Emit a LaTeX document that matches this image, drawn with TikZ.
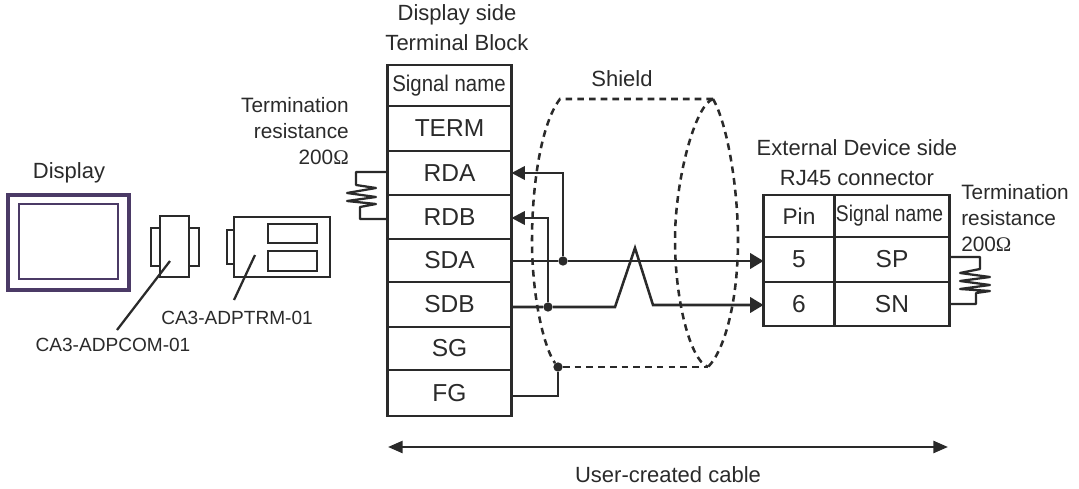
\documentclass[tikz,border=0pt]{standalone}
\usepackage{fontspec}
\setmainfont{Liberation Sans}
\newfontfamily\omfont{Liberation Serif}
\usetikzlibrary{calc,arrows.meta}
\definecolor{ink}{HTML}{2A2A2A}
\definecolor{frame}{HTML}{4B3A66}
\tikzset{
  lab/.style={text=ink,inner sep=0pt,font=\fontsize{16.5pt}{22.5pt}\selectfont},
  small/.style={text=ink,inner sep=0pt,align=left,font=\fontsize{15.6pt}{19.4pt}\selectfont},
  part/.style={text=ink,inner sep=0pt,font=\fontsize{14.3pt}{17pt}\selectfont},
  cell/.style={draw=ink,line width=1.9pt,outer sep=0pt,text=ink,inner sep=0pt,anchor=north west,font=\fontsize{18.4pt}{20pt}\selectfont},
  thin/.style={draw=ink,line width=1.7pt},
  wire/.style={draw=ink,line width=1.9pt,line join=miter},
  tipl/.style={-{Triangle[length=10pt,width=10pt]}},
  tipr/.style={-{Triangle[length=10pt,width=11.5pt]}},
  dot/.style={circle,fill=ink,inner sep=0pt,minimum size=7pt},
  shield/.style={draw=ink,line width=1.9pt,dash pattern=on 5pt off 3.8pt},
  screen/.style={draw=frame,line width=2.2pt},
}
\begin{document}
\begin{tikzpicture}[x=0.75pt,y=-0.75pt]
\useasboundingbox (0,0) rectangle (1079,489);
% display
\draw[screen,line width=3pt] (8,195) rectangle (129,290);
\draw[screen] (19,204) rectangle (118,279);
\node[lab] (display) at (69,173) {Display};
% CA3-ADPCOM-01
\draw[thin] (151,228) rectangle (199,266);
\draw[thin,fill=white] (160,216) rectangle (189,277);
\node[part] (com) at (113,345) {CA3-ADPCOM-01};
\draw[thin] (170,261) -- (117,330);
% CA3-ADPTRM-01
\draw[thin] (227,230) rectangle (234,264);
\draw[thin] (234,217) rectangle (330,277);
\draw[thin] (268,224) rectangle (317,243);
\draw[thin] (268,251) rectangle (317,271);
\node[part] (trm) at (237,318) {CA3-ADPTRM-01};
\draw[thin] (255,255) -- (234,300);
% left table
\node[lab,align=center] (dside) at (457,28) {Display side\\Terminal Block};
\node[cell,minimum width=124*0.75pt,minimum height=41*0.75pt] (sig) at (387.5,65) {};
\node[text=ink,inner sep=0pt,xscale=0.9,font=\fontsize{17pt}{20pt}\selectfont] (sigt) at (449,86) {Signal name};
\node[cell,minimum width=124*0.75pt,minimum height=45*0.75pt] (term) at (387.5,106) {TERM};
\node[cell,minimum width=124*0.75pt,minimum height=44*0.75pt] (rda) at (387.5,151) {RDA};
\node[cell,minimum width=124*0.75pt,minimum height=44*0.75pt] (rdb) at (387.5,195) {RDB};
\node[cell,minimum width=124*0.75pt,minimum height=43*0.75pt] (sda) at (387.5,239) {SDA};
\node[cell,minimum width=124*0.75pt,minimum height=45*0.75pt] (sdb) at (387.5,282) {SDB};
\node[cell,minimum width=124*0.75pt,minimum height=43*0.75pt] (sg) at (387.5,327) {SG};
\node[cell,minimum width=124*0.75pt,minimum height=46*0.75pt] (fg) at (387.5,370) {FG};
% right table
\node[lab,align=center] (eside) at (857,163) {External Device side\\RJ45 connector};
\node[cell,minimum width=71*0.75pt,minimum height=42*0.75pt,font=\fontsize{17pt}{20pt}\selectfont] (pin) at (763.5,195) {Pin};
\node[cell,minimum width=115*0.75pt,minimum height=42*0.75pt] (sig2) at (834.5,195) {};
\node[text=ink,inner sep=0pt,xscale=0.85,font=\fontsize{17pt}{20pt}\selectfont] (sig2t) at (889.5,216) {Signal name};
\node[cell,minimum width=71*0.75pt,minimum height=45*0.75pt] (p5) at (763.5,237) {5};
\node[cell,minimum width=115*0.75pt,minimum height=45*0.75pt] (sp) at (834.5,237) {SP};
\node[cell,minimum width=71*0.75pt,minimum height=44*0.75pt] (p6) at (763.5,282) {6};
\node[cell,minimum width=115*0.75pt,minimum height=44*0.75pt] (sn) at (834.5,282) {SN};
% termination labels
\node[small,align=right,anchor=north east] (tl) at (349,97) {Termination\\resistance\\200{\omfont Ω}};
\node[small,anchor=north west] (tr) at (961,184) {Termination\\resistance\\200{\omfont Ω}};
% resistors
\draw[thin,line join=round] (rda.west |- 0,172) -- (356,172) -- (356,185) -- (376,188) -- (347,193) -- (376,197) -- (347,201) -- (376,204) -- (360,207) -- (360,219) -- (rdb.west |- 0,219);
\draw[thin,line join=round] (sp.east |- 0,257) -- (980,257) -- (980,269) -- (960,273) -- (990,277) -- (960,281) -- (990,285) -- (960,289) -- (990,291) -- (976,293) -- (976,304) -- (sn.east);
% shield
\coordinate (st) at (560,99);
\coordinate (sr) at (713,99);
\node[dot] (fgdot) at (558,367) {};
\coordinate (sb) at (708,367);
\draw[shield] (sr) -- (st) .. controls (540,125) and (532,190) .. (532,240) .. controls (532,300) and (545,350) .. (fgdot);
\draw[shield] (fgdot) -- (sb);
\draw[shield] (sr) .. controls (728,125) and (738,190) .. (738,240) .. controls (738,300) and (725,350) .. (sb);
\draw[shield] (sr) .. controls (695,105) and (675,180) .. (675,240) .. controls (675,300) and (690,360) .. (sb);
\node[lab] (shieldt) at (622,79) {Shield};
% wires
\node[dot] (j1) at (563,261) {};
\node[dot] (j2) at (548,307) {};
\draw[wire,tipl] (j1) -- (j1 |- rda.east) -- (rda.east);
\draw[wire,tipl] (j2) -- (j2 |- 0,218) -- (rdb.east |- 0,218);
\draw[wire,tipr] (sda.east |- j1) -- (j1) -- (p5.west |- j1);
\draw[wire,tipr] (sdb.east |- j2) -- (j2) -- (615,307) -- (635,248) -- (653,305) -- (p6.west |- 0,305);
\draw[wire] (fg.east |- 0,396) -- (fgdot |- 0,396) -- (fgdot);
% span
\coordinate (spanl) at (388,447);
\coordinate (spanr) at (948,447);
\draw[wire,{Triangle[length=11pt,width=9pt]}-{Triangle[length=11pt,width=9pt]}] (spanl) -- (spanr);
\node[lab] (ucc) at (668,475) {User-created cable};
\end{tikzpicture}
\end{document}
